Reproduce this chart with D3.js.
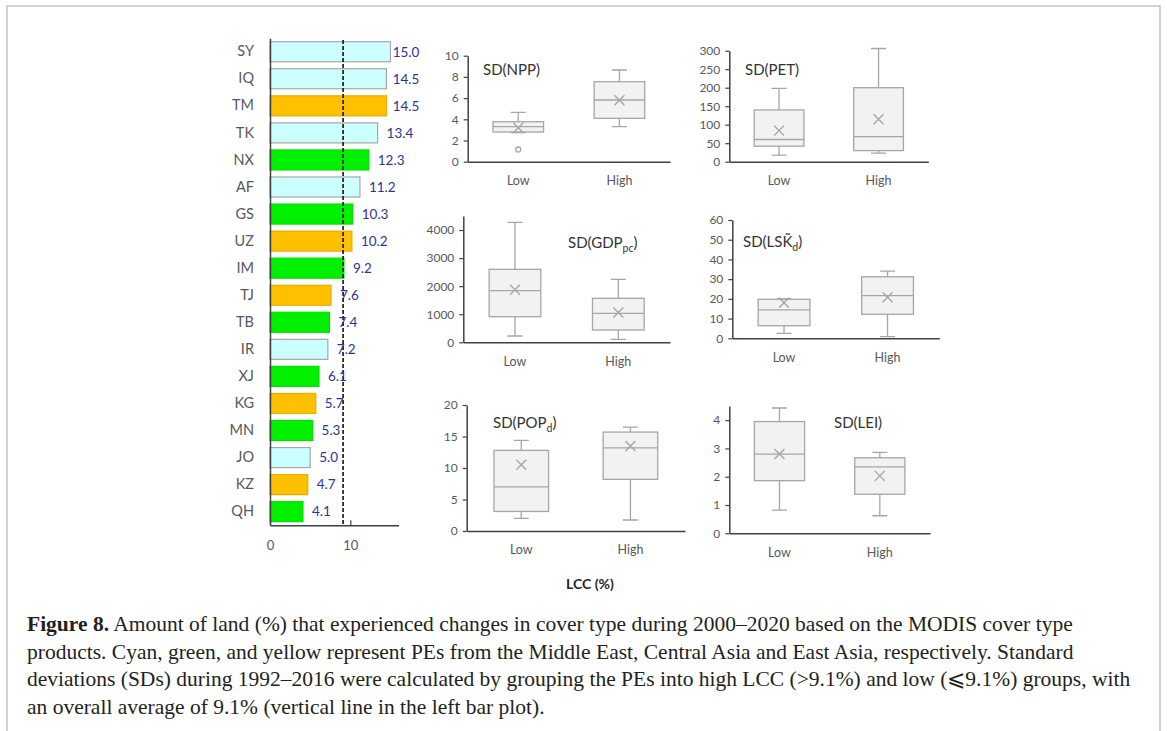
<!DOCTYPE html>
<html>
<head>
<meta charset="utf-8">
<script src="https://cdn.jsdelivr.net/npm/d3@7"></script>
<style>
body { margin: 0; background: #fff; }
svg { display: block; }
</style>
</head>
<body>
<svg id="chart" width="1167" height="731"></svg>
<script>
// Land cover change per PE (%), sorted as in the bar plot.
var peNames = ['SY', 'IQ', 'TM', 'TK', 'NX', 'AF', 'GS', 'UZ', 'IM', 'TJ', 'TB', 'IR', 'XJ', 'KG', 'MN', 'JO', 'KZ', 'QH'];
var peLCC = [15.0, 14.5, 14.5, 13.4, 12.3, 11.2, 10.3, 10.2, 9.2, 7.6, 7.4, 7.2, 6.1, 5.7, 5.3, 5.0, 4.7, 4.1];
var peRegion = ['ME', 'ME', 'CA', 'ME', 'EA', 'ME', 'EA', 'CA', 'EA', 'CA', 'EA', 'ME', 'EA', 'CA', 'EA', 'ME', 'CA', 'EA'];
var lccMean = 9.1;
var lccTicks = [0, 10];

// Box stats per group: [min, q1, median, q3, max, mean].
var boxGroups = ['Low', 'High'];
var sdNPP = [[2.75, 2.8, 3.3, 3.77, 4.66, 3.2], [3.3, 4.09, 5.82, 7.55, 8.65, 5.8]];
var sdPET = [[18, 42, 60, 140, 198, 84], [23, 30, 68, 200, 306, 115]];
var sdGDP = [[224, 912, 1838, 2600, 4273, 1870], [107, 438, 1033, 1567, 2243, 1060]];
var sdLSK = [[2.5, 6.4, 14.4, 19.8, 20.0, 18.0], [0.8, 12.2, 21.6, 31.2, 34.1, 20.8]];
var sdPOP = [[2.0, 3.1, 7.0, 12.8, 14.4, 10.5], [1.75, 8.2, 13.2, 15.7, 16.5, 13.5]];
var sdLEI = [[0.82, 1.86, 2.8, 3.95, 4.43, 2.8], [0.62, 1.38, 2.35, 2.67, 2.86, 2.03]];
var nppOutliers = [[1.15], []];

var nppTicks = [0, 2, 4, 6, 8, 10];
var petTicks = [0, 50, 100, 150, 200, 250, 300];
var gdpTicks = [0, 1000, 2000, 3000, 4000];
var lskTicks = [0, 10, 20, 30, 40, 50, 60];
var popTicks = [0, 5, 10, 15, 20];
var leiTicks = [0, 1, 2, 3, 4];

var captionLines = [
    ' Amount of land (%) that experienced changes in cover type during 2000\u20132020 based on the MODIS cover type',
    'products. Cyan, green, and yellow represent PEs from the Middle East, Central Asia and East Asia, respectively. Standard',
    'deviations (SDs) during 1992\u20132016 were calculated by grouping the PEs into high LCC (>9.1%) and low (\u2a7d9.1%) groups, with',
    'an overall average of 9.1% (vertical line in the left bar plot).'
];

var regionFill = { ME: '#ccffff', CA: '#ffc000', EA: '#00f000' };
var regionStroke = { ME: '#a6a6a6', CA: '#e8ae00', EA: '#00e000' };
var font = 'Lato, "Open Sans", sans-serif';

var svg = d3.select('#chart');

function styleAxis(g, color) {
    g.attr('font-family', font)
        .attr('font-size', 12);
    g.select('.domain')
        .attr('stroke', '#404040')
        .attr('stroke-width', 1.5);
    g.selectAll('.tick line')
        .attr('stroke', '#404040')
        .attr('stroke-width', 1.2);
    g.selectAll('.tick text')
        .attr('fill', color || '#595959');
}

// Bar plot of LCC.
function LccBars(svg) {
    this.g = svg.append('g');
    this.x = d3.scaleLinear().domain([0, 16]).range([270, 398.5]);
    this.y = d3.scaleBand()
        .domain(peNames)
        .range([38.2, 525.2])
        .paddingInner(0.26)
        .paddingOuter(0.13);
    this.labelMax = 392.7;
    this._draw();
}

LccBars.prototype._draw = function() {
    var x = this.x, y = this.y, self = this;
    var data = peNames.map(function(n, i) {
        return { name: n, value: peLCC[i], region: peRegion[i] };
    });

    this.g.selectAll('rect.bar')
        .data(data)
        .enter().append('rect')
        .attr('class', 'bar')
        .attr('x', x(0))
        .attr('y', function(d) { return y(d.name); })
        .attr('width', function(d) { return x(d.value) - x(0); })
        .attr('height', y.bandwidth())
        .attr('fill', function(d) { return regionFill[d.region]; })
        .attr('stroke', function(d) { return regionStroke[d.region]; })
        .attr('stroke-width', 1.2);

    // Overall average.
    this.g.append('line')
        .attr('x1', x(lccMean))
        .attr('x2', x(lccMean))
        .attr('y1', 40)
        .attr('y2', y.range()[1])
        .attr('stroke', '#111')
        .attr('stroke-width', 1.6)
        .attr('stroke-dasharray', '4,2');

    this.g.selectAll('text.value')
        .data(data)
        .enter().append('text')
        .attr('class', 'value')
        .attr('x', function(d) { return Math.min(x(d.value) + 9, self.labelMax); })
        .attr('y', function(d) { return y(d.name) + y.bandwidth() / 2 + 4.8; })
        .attr('font-family', font)
        .attr('font-size', 13.5)
        .attr('fill', '#2f3399')
        .text(function(d) { return d.value.toFixed(1); });

    this.g.append('g')
        .attr('transform', 'translate(' + x(0) + ',0)')
        .call(d3.axisLeft(y).tickSize(0).tickPadding(16))
        .call(styleAxis)
        .attr('font-size', 14.5);

    this.g.append('g')
        .attr('transform', 'translate(0,' + y.range()[1] + ')')
        .call(d3.axisBottom(x).tickValues(lccTicks).tickFormat(d3.format('d'))
            .tickSizeInner(-5).tickSizeOuter(0).tickPadding(16))
        .call(styleAxis)
        .attr('font-size', 13);
};

// One box plot panel.
function BoxPanel(svg, opts) {
    this.g = svg.append('g');
    this.opts = opts;
    this.x = d3.scaleBand()
        .domain(boxGroups)
        .range([opts.x0, opts.x1])
        .paddingInner(0.5)
        .paddingOuter(0.25);
    this.y = d3.scaleLinear().domain([0, opts.max]).range([opts.y0, opts.yTop]);
    this._drawBoxes();
    this._drawAxes();
    this._drawTitle();
}

BoxPanel.prototype._drawBoxes = function() {
    var x = this.x, y = this.y, bw = x.bandwidth(), cap = 7.5;
    var outliers = this.opts.outliers || [[], []];
    var stroke = '#a6a6a6';
    var data = boxGroups.map(function(gr, i) {
        var s = this.opts.stats[i];
        return { group: gr, min: s[0], q1: s[1], med: s[2], q3: s[3], max: s[4], mean: s[5], out: outliers[i] };
    }, this);

    var box = this.g.selectAll('g.box')
        .data(data)
        .enter().append('g')
        .attr('class', 'box')
        .attr('transform', function(d) { return 'translate(' + (x(d.group) + bw / 2) + ',0)'; })
        .attr('stroke', stroke)
        .attr('stroke-width', 1.3)
        .attr('fill', 'none');

    // Whiskers and caps.
    box.append('path')
        .attr('d', function(d) {
            return 'M0,' + y(d.min) + 'V' + y(d.q1) +
                'M0,' + y(d.q3) + 'V' + y(d.max) +
                'M' + (-cap) + ',' + y(d.min) + 'H' + cap +
                'M' + (-cap) + ',' + y(d.max) + 'H' + cap;
        });

    box.append('rect')
        .attr('x', -bw / 2)
        .attr('width', bw)
        .attr('y', function(d) { return y(d.q3); })
        .attr('height', function(d) { return y(d.q1) - y(d.q3); })
        .attr('fill', '#f2f2f2');

    box.append('line')
        .attr('x1', -bw / 2)
        .attr('x2', bw / 2)
        .attr('y1', function(d) { return y(d.med); })
        .attr('y2', function(d) { return y(d.med); });

    // Mean marker.
    box.append('path')
        .attr('d', function(d) {
            var m = y(d.mean), r = 5;
            return 'M' + (-r) + ',' + (m - r) + 'L' + r + ',' + (m + r) +
                'M' + r + ',' + (m - r) + 'L' + (-r) + ',' + (m + r);
        })
        .attr('stroke-width', 1.4);

    box.selectAll('circle')
        .data(function(d) { return d.out; })
        .enter().append('circle')
        .attr('cy', function(v) { return y(v); })
        .attr('r', 2.5)
        .attr('fill', '#fff');
};

BoxPanel.prototype._drawAxes = function() {
    var o = this.opts;
    this.g.append('g')
        .attr('transform', 'translate(' + o.x0 + ',0)')
        .call(d3.axisLeft(this.y).tickValues(o.ticks).tickFormat(function(d) { return String(d); })
            .tickSizeInner(4).tickSizeOuter(0).tickPadding(5))
        .call(styleAxis);

    this.g.append('g')
        .attr('transform', 'translate(0,' + o.y0 + ')')
        .call(d3.axisBottom(this.x).tickSize(0).tickPadding(14.5))
        .call(styleAxis)
        .attr('font-size', 12.5);
};

BoxPanel.prototype._drawTitle = function() {
    var t = this.opts.title;
    var text = this.g.append('text')
        .attr('x', t.x)
        .attr('y', t.y)
        .attr('font-family', font)
        .attr('font-size', 15)
        .attr('fill', '#333');
    text.append('tspan').text(t.text);
    if(t.sub) {
        text.append('tspan')
            .attr('dy', 4)
            .attr('font-size', 10.5)
            .text(t.sub);
        text.append('tspan')
            .attr('dy', -4)
            .text(')');
    }
};

// Frame.
svg.append('path')
    .attr('d', 'M7,731V6H1160V731')
    .attr('fill', 'none')
    .attr('stroke', '#c4c4c4')
    .attr('stroke-width', 1.5);

new LccBars(svg);

new BoxPanel(svg, { stats: sdNPP, outliers: nppOutliers, ticks: nppTicks, max: 10,
    x0: 467.7, x1: 670, y0: 161.7, yTop: 55.7,
    title: { text: 'SD(NPP)', x: 483, y: 75 } });
new BoxPanel(svg, { stats: sdPET, ticks: petTicks, max: 300,
    x0: 729.3, x1: 928.3, y0: 161.7, yTop: 50.7,
    title: { text: 'SD(PET)', x: 745, y: 75 } });
new BoxPanel(svg, { stats: sdGDP, ticks: gdpTicks, max: 4500,
    x0: 463.3, x1: 670, y0: 342.3, yTop: 216,
    title: { text: 'SD(GDP', sub: 'pc', x: 568, y: 248 } });
new BoxPanel(svg, { stats: sdLSK, ticks: lskTicks, max: 60,
    x0: 732.3, x1: 939.3, y0: 338.3, yTop: 220,
    title: { text: 'SD(LSK\u0303', sub: 'd', x: 743, y: 247 } });
new BoxPanel(svg, { stats: sdPOP, ticks: popTicks, max: 20,
    x0: 466.7, x1: 685, y0: 531, yTop: 405,
    title: { text: 'SD(POP', sub: 'd', x: 493, y: 428 } });
new BoxPanel(svg, { stats: sdLEI, ticks: leiTicks, max: 4.5,
    x0: 729.3, x1: 930, y0: 533.3, yTop: 406,
    title: { text: 'SD(LEI)', x: 834, y: 428 } });

// Shared axis title.
svg.append('text')
    .attr('x', 590)
    .attr('y', 589)
    .attr('text-anchor', 'middle')
    .attr('font-family', font)
    .attr('font-weight', 'bold')
    .attr('font-size', 14)
    .attr('fill', '#262626')
    .text('LCC (%)');

// Caption.
var caption = svg.append('text')
    .attr('font-family', '"Liberation Serif", "DejaVu Serif", serif')
    .attr('font-size', 21.5)
    .attr('fill', '#231f20');
captionLines.forEach(function(line, i) {
    var t = caption.append('tspan')
        .attr('x', 27)
        .attr('y', 631 + i * 27.5);
    if(i == 0) {
        t.append('tspan').attr('font-weight', 'bold').text('Figure 8.');
    }
    t.append('tspan').text(line);
});
</script>
</body>
</html>
